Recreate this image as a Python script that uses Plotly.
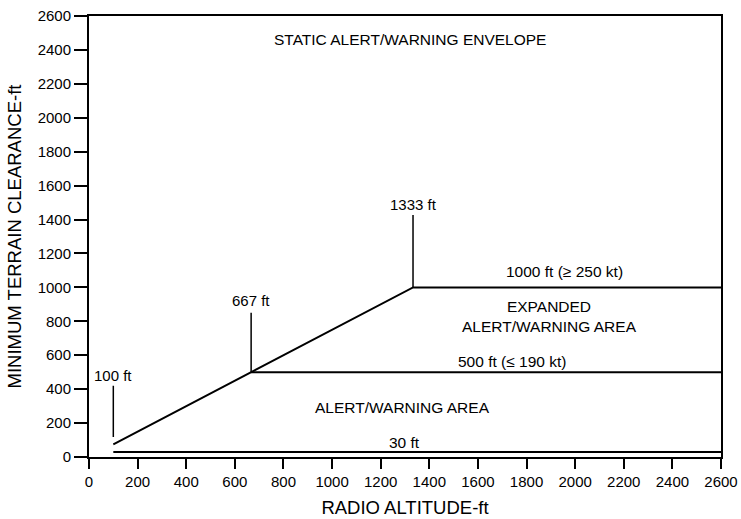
import plotly.graph_objects as go

# boundary lines (radio altitude ft, terrain clearance ft)
slope_x = [100, 667, 1333, 2600]
slope_y = [75, 500, 1000, 1000]
mid_x = [667, 2600]
mid_y = [500, 500]
floor_x = [100, 2600]
floor_y = [30, 30]

# marker stems: x, bottom, top
stem_x = [100, 667, 1333]
stem_lo = [118, 500, 1000]
stem_hi = [420, 850, 1427]
stem_labels = ["100 ft", "667 ft", "1333 ft"]
stem_label_y = [478, 925, 1486]

# region annotations
note_x = [1321, 1955, 1893, 1741, 1288, 1296]
note_y = [2459, 1091, 830, 566, 289, 88]
note_text = [
    "STATIC ALERT/WARNING ENVELOPE",
    "1000 ft (≥ 250 kt)",
    "EXPANDED<br>ALERT/WARNING AREA",
    "500 ft (≤ 190 kt)",
    "ALERT/WARNING AREA",
    "30 ft",
]

ticks = list(range(0, 2601, 200))

line = dict(color="black", width=2)
fig = go.Figure()
fig.add_trace(go.Scatter(x=slope_x, y=slope_y, mode="lines", line=line))
fig.add_trace(go.Scatter(x=mid_x, y=mid_y, mode="lines", line=line))
fig.add_trace(go.Scatter(x=floor_x, y=floor_y, mode="lines", line=line))

sx, sy = [], []
for x, lo, hi in zip(stem_x, stem_lo, stem_hi):
    sx += [x, x, None]
    sy += [lo, hi, None]
fig.add_trace(go.Scatter(x=sx, y=sy, mode="lines", line=dict(color="black", width=1.5)))

for x, y, t in zip(stem_x, stem_label_y, stem_labels):
    fig.add_annotation(x=x, y=y, text=t, showarrow=False, font=dict(size=15))
for x, y, t in zip(note_x, note_y, note_text):
    fig.add_annotation(x=x, y=y, text=t, showarrow=False, font=dict(size=15.5))

axis_common = dict(
    range=[0, 2600], tickvals=ticks, showgrid=False, zeroline=False,
    showline=True, linecolor="black", linewidth=2, mirror=True,
    ticks="outside", tickcolor="black", tickwidth=1.5, automargin=False,
    ticklabeloverflow="allow",
    tickfont=dict(size=15, color="black"),
)
fig.update_xaxes(**axis_common, ticklen=10,
                 title=dict(text="RADIO ALTITUDE-ft", font=dict(size=18.5, color="black"), standoff=12))
fig.update_yaxes(**axis_common, ticklen=13,
                 title=dict(text="MINIMUM TERRAIN CLEARANCE-ft", font=dict(size=18.5, color="black"), standoff=11))

fig.update_layout(
    width=741, height=519,
    margin=dict(l=89, r=20, t=16, b=62),
    font=dict(family="Liberation Sans, Arial, sans-serif", color="black"),
    paper_bgcolor="white", plot_bgcolor="white",
    showlegend=False,
)

# drop the default page margin so the figure sits flush in the window
fig.write_html(
    "out.html",
    config={"displayModeBar": False},
    post_script="document.body.style.margin='0';document.body.style.overflow='hidden';",
)
